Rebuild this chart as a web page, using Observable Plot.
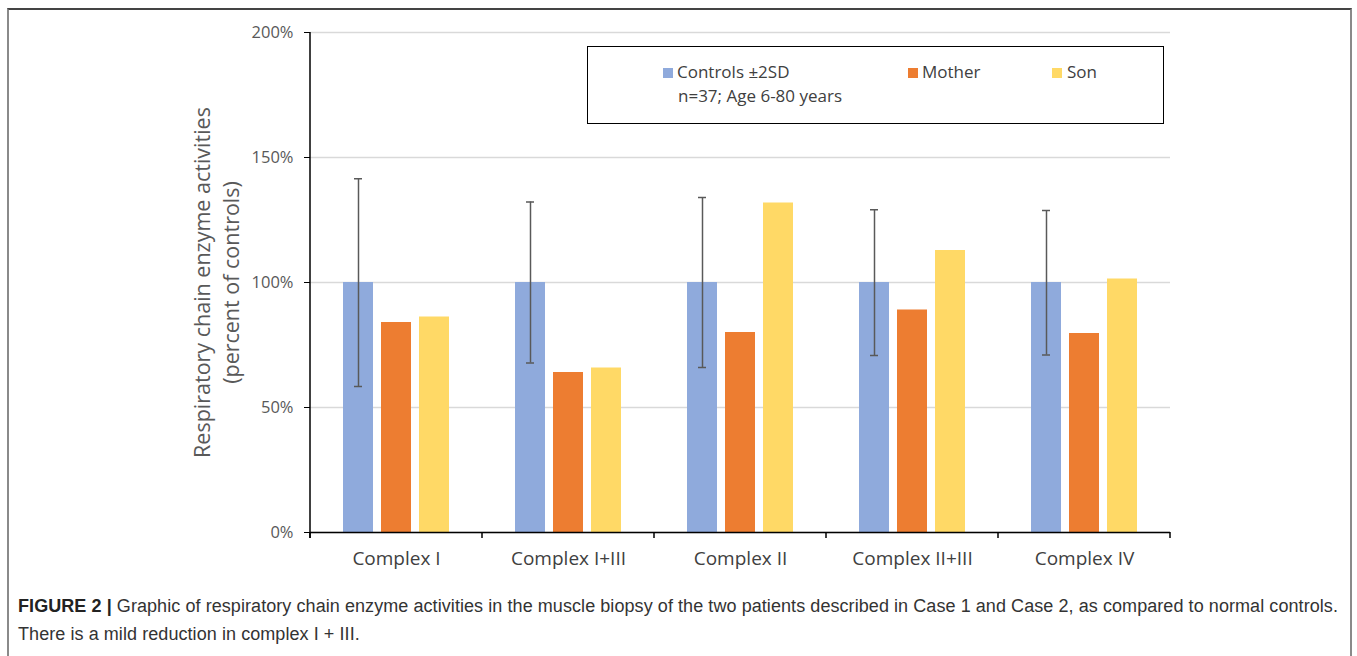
<!DOCTYPE html>
<html><head><meta charset="utf-8">
<script src="https://cdn.jsdelivr.net/npm/d3@7"></script>
<script src="https://cdn.jsdelivr.net/npm/@observablehq/plot@0.6"></script>
<style>
body{margin:0;background:#fff;width:1357px;height:656px;overflow:hidden;position:relative;font-family:"Open Sans",sans-serif;}
#frame{position:absolute;left:7px;top:8px;width:1345px;height:700px;border-top:2px solid #444;border-left:2px solid #8a8a8a;border-right:2px solid #8a8a8a;box-sizing:border-box;}
#chart{position:absolute;left:0;top:0;}
#legend{position:absolute;left:587px;top:46px;width:577px;height:78px;border:1.5px solid #000;box-sizing:border-box;background:#fff;color:#404040;font-size:17px;}
.sw{position:absolute;width:10px;height:10px;}
.lt{position:absolute;white-space:nowrap;line-height:20px;}
#caption{position:absolute;left:18px;top:592px;font-family:"Liberation Sans",Arial,sans-serif;font-size:18px;letter-spacing:0.07px;line-height:28px;color:#333;white-space:nowrap;}
#caption b{color:#222;}
</style>
</head><body>
<div id="frame"></div>
<div id="chart"></div>
<div id="legend"></div>
<div id="caption"><b>FIGURE 2 |</b> Graphic of respiratory chain enzyme activities in the muscle biopsy of the two patients described in Case 1 and Case 2, as compared to normal controls.<br>There is a mild reduction in complex I + III.</div>
<script>
const complexes = ["Complex I", "Complex I+III", "Complex II", "Complex II+III", "Complex IV"];
const series = ["Controls ±2SD", "Mother", "Son"];
const colors = ["#8FAADC", "#ED7D31", "#FFD966"];
const controls = [100, 100, 100, 100, 100];
const mother = [84, 64, 80, 89, 79.6];
const son = [86.2, 65.8, 131.8, 112.8, 101.4];
const sdHigh = [141.5, 132.2, 134, 129.1, 128.8];
const sdLow = [58.4, 67.8, 66, 70.8, 71];
const yTicks = [0, 50, 100, 150, 200];
const yTitle = "Respiratory chain enzyme activities\n(percent of controls)";
const legendNote = "n=37; Age 6-80 years";

const values = [controls, mother, son];
const rows = complexes.flatMap((c, i) => series.map((s, j) => ({complex: c, series: s, value: values[j][i]})));
const errs = complexes.map((c, i) => ({complex: c, series: series[0], hi: sdHigh[i], lo: sdLow[i]}));

const chart = Plot.plot({
  width: 1357, height: 580,
  marginLeft: 309, marginRight: 186, marginTop: 32, marginBottom: 48,
  style: {fontFamily: "Open Sans", background: "transparent", overflow: "visible"},
  fx: {domain: complexes, padding: 0, label: null},
  x: {domain: series, paddingInner: 0.22, paddingOuter: 0.85, axis: null},
  y: {domain: [0, 200], label: null},
  color: {domain: series, range: colors},
  marks: [
    Plot.gridY(yTicks, {stroke: "#d9d9d9", strokeOpacity: 1, strokeWidth: 1.5}),
    Plot.barY(rows, {fx: "complex", x: "series", y: "value", fill: "series"}),
    Plot.ruleX(errs, {fx: "complex", x: "series", y1: "lo", y2: "hi", stroke: "#595959", strokeWidth: 1.5}),
    Plot.tickY(errs, {fx: "complex", x: "series", y: "hi", stroke: "#595959", strokeWidth: 1.5, insetLeft: 11, insetRight: 11}),
    Plot.tickY(errs, {fx: "complex", x: "series", y: "lo", stroke: "#595959", strokeWidth: 1.5, insetLeft: 11, insetRight: 11}),
    Plot.ruleY([0], {stroke: "#000", strokeWidth: 1.5}),
    Plot.axisY({ticks: yTicks, tickFormat: d => d + "%", tickSize: 6, tickPadding: 11, fontSize: 16.5, color: "#595959", stroke: "#000"}),
    Plot.axisFx({anchor: "bottom", tickSize: 0, tickPadding: 19, fontSize: 19, color: "#404040", label: null}),
    Plot.text([yTitle], {fx: () => complexes[0], text: d => d, frameAnchor: "left", textAnchor: "middle", rotate: -90, dx: -95, lineAnchor: "middle", lineHeight: 1.35, fontSize: 21.5, fill: "#595959"})
  ]
});
document.getElementById("chart").appendChild(chart);

// axis lines and category-boundary ticks, placed from Plot's own scales
const fxS = chart.scale("fx"), yS = chart.scale("y");
const yf = yS.apply ? yS.apply : d3.scaleLinear(yS.domain, yS.range);
const bw = fxS.bandwidth;
const fxStart = c => fxS.apply ? fxS.apply(c) : fxS.range[0] + complexes.indexOf(c) * bw;
const bounds = complexes.map(fxStart).concat([fxStart(complexes[complexes.length - 1]) + bw]);
const svg = d3.select(chart);
const g = svg.append("g").attr("stroke", "#000").attr("stroke-width", 1.5);
g.append("line").attr("x1", bounds[0]).attr("x2", bounds[0]).attr("y1", yf(200)).attr("y2", yf(0) + 6);
g.selectAll(".bt").data(bounds).join("line").attr("x1", d => d).attr("x2", d => d).attr("y1", yf(0)).attr("y2", yf(0) + 6);

// legend
const leg = document.getElementById("legend");
const legItems = [{dx: 75, tx: 89}, {dx: 320, tx: 334}, {dx: 464, tx: 479}];
series.forEach((s, i) => {
  const sw = document.createElement("div"); sw.className = "sw";
  sw.style.left = legItems[i].dx + "px"; sw.style.top = "21px"; sw.style.background = colors[i];
  leg.appendChild(sw);
  const t = document.createElement("div"); t.className = "lt";
  t.style.left = legItems[i].tx + "px"; t.style.top = "15px"; t.textContent = s;
  leg.appendChild(t);
});
const note = document.createElement("div"); note.className = "lt";
note.style.left = "90px"; note.style.top = "39px"; note.textContent = legendNote;
leg.appendChild(note);
</script>
</body></html>
